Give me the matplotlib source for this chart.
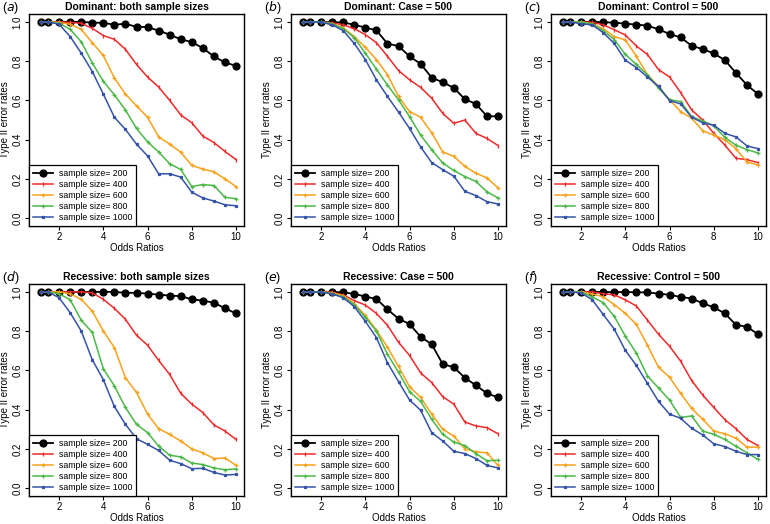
import numpy as np
import matplotlib
matplotlib.use('Agg')
import matplotlib.pyplot as plt

plt.rcParams['font.family'] = ['Liberation Sans', 'DejaVu Sans']

# odds ratios
odds = [1.2, 1.5, 2, 2.5, 3, 3.5, 4, 4.5, 5, 5.5, 6, 6.5, 7, 7.5, 8, 8.5, 9, 9.5, 10]

sizes = ['200', '400', '600', '800', '1000']

# (a) Dominant: both sample sizes
dom_both = [
    [1.0, 1.0, 1.0, 1.0, 1.0, 0.996, 0.995, 0.985, 0.991, 0.974, 0.974, 0.955, 0.935, 0.911, 0.897, 0.866, 0.824, 0.793, 0.776],
    [1.0, 1.0, 1.0, 0.997, 0.993, 0.967, 0.93, 0.911, 0.86, 0.783, 0.719, 0.668, 0.6, 0.526, 0.486, 0.418, 0.385, 0.34, 0.298],
    [1.0, 1.0, 0.997, 0.988, 0.962, 0.894, 0.829, 0.714, 0.632, 0.572, 0.514, 0.414, 0.377, 0.336, 0.269, 0.25, 0.236, 0.2, 0.161],
    [1.0, 1.0, 0.993, 0.962, 0.899, 0.791, 0.697, 0.628, 0.551, 0.457, 0.389, 0.337, 0.277, 0.248, 0.161, 0.171, 0.166, 0.106, 0.099],
    [1.0, 1.0, 0.988, 0.925, 0.841, 0.747, 0.632, 0.514, 0.452, 0.377, 0.317, 0.226, 0.226, 0.209, 0.132, 0.103, 0.087, 0.068, 0.063],
]
# (b) Dominant: Case = 500
dom_case = [
    [1.0, 1.0, 1.0, 0.998, 0.997, 0.985, 0.971, 0.957, 0.889, 0.877, 0.824, 0.786, 0.716, 0.692, 0.664, 0.606, 0.582, 0.519, 0.519],
    [1.0, 1.0, 1.0, 0.995, 0.985, 0.965, 0.935, 0.894, 0.825, 0.752, 0.705, 0.666, 0.611, 0.534, 0.483, 0.5, 0.432, 0.406, 0.37],
    [1.0, 1.0, 1.0, 0.99, 0.97, 0.925, 0.87, 0.808, 0.731, 0.62, 0.543, 0.514, 0.435, 0.337, 0.315, 0.264, 0.229, 0.205, 0.154],
    [1.0, 1.0, 1.0, 0.99, 0.965, 0.92, 0.84, 0.76, 0.678, 0.603, 0.517, 0.423, 0.349, 0.281, 0.243, 0.212, 0.187, 0.134, 0.103],
    [1.0, 1.0, 0.998, 0.985, 0.955, 0.89, 0.808, 0.705, 0.62, 0.541, 0.457, 0.363, 0.283, 0.247, 0.214, 0.137, 0.115, 0.084, 0.072],
]
# (c) Dominant: Control = 500
dom_ctrl = [
    [1.0, 1.0, 1.0, 1.0, 0.998, 0.996, 0.991, 0.986, 0.981, 0.962, 0.938, 0.921, 0.878, 0.861, 0.839, 0.805, 0.74, 0.678, 0.632],
    [1.0, 1.0, 1.0, 0.998, 0.985, 0.96, 0.933, 0.877, 0.834, 0.757, 0.719, 0.64, 0.551, 0.5, 0.432, 0.372, 0.305, 0.298, 0.283],
    [1.0, 1.0, 1.0, 0.99, 0.965, 0.925, 0.908, 0.825, 0.731, 0.671, 0.603, 0.543, 0.509, 0.445, 0.423, 0.4, 0.354, 0.286, 0.271],
    [1.0, 1.0, 0.998, 0.99, 0.955, 0.91, 0.834, 0.783, 0.731, 0.663, 0.603, 0.594, 0.517, 0.495, 0.471, 0.411, 0.372, 0.349, 0.332],
    [1.0, 1.0, 0.99, 0.985, 0.945, 0.89, 0.805, 0.767, 0.719, 0.671, 0.599, 0.582, 0.514, 0.486, 0.473, 0.432, 0.414, 0.368, 0.354],
]
# (d) Recessive: both sample sizes
rec_both = [
    [1.0, 1.0, 1.0, 1.0, 1.0, 1.0, 1.0, 1.0, 0.995, 0.995, 0.991, 0.986, 0.981, 0.978, 0.962, 0.955, 0.945, 0.916, 0.89],
    [1.0, 1.0, 1.0, 1.0, 1.0, 0.995, 0.962, 0.916, 0.86, 0.779, 0.728, 0.651, 0.579, 0.483, 0.428, 0.385, 0.322, 0.291, 0.248],
    [1.0, 1.0, 1.0, 0.99, 0.962, 0.902, 0.801, 0.716, 0.562, 0.488, 0.377, 0.303, 0.274, 0.24, 0.2, 0.18, 0.151, 0.154, 0.116],
    [1.0, 1.0, 0.99, 0.96, 0.856, 0.793, 0.608, 0.521, 0.411, 0.325, 0.283, 0.214, 0.168, 0.159, 0.128, 0.12, 0.103, 0.094, 0.098],
    [1.0, 1.0, 0.97, 0.894, 0.801, 0.654, 0.553, 0.416, 0.325, 0.252, 0.223, 0.192, 0.142, 0.125, 0.099, 0.101, 0.08, 0.067, 0.07],
]
# (e) Recessive: Case = 500
rec_case = [
    [1.0, 1.0, 1.0, 1.0, 0.997, 0.99, 0.976, 0.964, 0.911, 0.863, 0.836, 0.771, 0.733, 0.632, 0.616, 0.562, 0.524, 0.483, 0.462],
    [1.0, 1.0, 1.0, 0.998, 0.985, 0.955, 0.933, 0.89, 0.83, 0.743, 0.676, 0.587, 0.538, 0.466, 0.428, 0.337, 0.317, 0.308, 0.277],
    [1.0, 1.0, 1.0, 0.995, 0.98, 0.94, 0.88, 0.805, 0.719, 0.62, 0.517, 0.462, 0.377, 0.3, 0.265, 0.2, 0.185, 0.18, 0.116],
    [1.0, 1.0, 1.0, 0.99, 0.975, 0.935, 0.87, 0.801, 0.682, 0.591, 0.491, 0.442, 0.351, 0.274, 0.235, 0.217, 0.176, 0.14, 0.142],
    [1.0, 1.0, 0.998, 0.99, 0.97, 0.925, 0.85, 0.767, 0.639, 0.543, 0.449, 0.397, 0.283, 0.24, 0.188, 0.176, 0.151, 0.116, 0.103],
]
# (f) Recessive: Control = 500
rec_ctrl = [
    [1.0, 1.0, 1.0, 1.0, 0.999, 0.999, 0.999, 0.998, 0.997, 0.991, 0.985, 0.974, 0.966, 0.942, 0.921, 0.89, 0.832, 0.822, 0.784],
    [1.0, 1.0, 1.0, 1.0, 0.99, 0.985, 0.959, 0.928, 0.856, 0.784, 0.723, 0.647, 0.548, 0.474, 0.411, 0.349, 0.303, 0.248, 0.217],
    [1.0, 1.0, 1.0, 0.99, 0.975, 0.935, 0.89, 0.834, 0.728, 0.616, 0.565, 0.483, 0.406, 0.351, 0.291, 0.277, 0.255, 0.209, 0.209],
    [1.0, 1.0, 0.998, 0.975, 0.945, 0.875, 0.775, 0.688, 0.572, 0.51, 0.449, 0.36, 0.368, 0.291, 0.274, 0.248, 0.214, 0.18, 0.146],
    [1.0, 1.0, 0.995, 0.96, 0.885, 0.81, 0.702, 0.625, 0.534, 0.442, 0.377, 0.356, 0.305, 0.271, 0.226, 0.212, 0.188, 0.171, 0.171],
]

panels = [dom_both, dom_case, dom_ctrl, rec_both, rec_case, rec_ctrl]
titles = ['Dominant: both sample sizes', 'Dominant: Case = 500', 'Dominant: Control = 500',
          'Recessive: both sample sizes', 'Recessive: Case = 500', 'Recessive: Control = 500']
letters = ['a', 'b', 'c', 'd', 'e', 'f']

colors = ['black', '#ee2a2a', '#f7a21b', '#4cb848', '#3553a8']
markers = ['o', '|', '+', '+', 's']
msizes = [5, 2.5, 3, 3, 1.8]
lws = [1.3, 1.1, 1.1, 1.1, 1.1]

W, H = 770, 524
fig = plt.figure(figsize=(7.7, 5.24), dpi=100)

lefts = [29, 291, 551]
tops = [14, 284]
aw, ah = 215, 212

for k in range(6):
    r, c = divmod(k, 3)
    x0 = lefts[c]
    y0 = tops[r]
    ax = fig.add_axes([x0 / W, 1 - (y0 + ah) / H, aw / W, ah / H])
    data = panels[k]
    for i in range(5):
        ax.plot(odds, data[i], color=colors[i], marker=markers[i], markersize=msizes[i],
                lw=lws[i], mew=0.9, label='sample size= ' + sizes[i])
    ax.set_xlim(0.64, 10.36)
    ax.set_ylim(-0.04, 1.04)
    ax.set_xticks([2, 4, 6, 8, 10])
    ax.set_yticks([0.0, 0.2, 0.4, 0.6, 0.8, 1.0])
    ax.set_yticklabels(['0.0', '0.2', '0.4', '0.6', '0.8', '1.0'], rotation=90, va='center')
    ax.tick_params(labelsize=7, length=3, width=0.8, pad=1.5)
    for s in ax.spines.values():
        s.set_linewidth(1.0)
    ax.set_xlabel('Odds Ratios', fontsize=7, labelpad=0.5)
    ax.set_ylabel('Type II error rates', fontsize=7, labelpad=2)
    ax.set_title(titles[k], fontsize=7.5, fontweight='bold', pad=3)
    leg = ax.legend(loc='lower left', bbox_to_anchor=(0, 0), borderaxespad=0, fontsize=6.3,
                    fancybox=False, edgecolor='black', framealpha=1, handlelength=2.3,
                    handletextpad=0.7, labelspacing=0.25, borderpad=0.4)
    leg.get_frame().set_linewidth(0.9)
    fig.text((x0 - 27) / W, 1 - (y0 - 6) / H, '($\\it{%s}$)' % letters[k], fontsize=9,
             ha='left', va='center')

fig.savefig('out.png', dpi=100)
